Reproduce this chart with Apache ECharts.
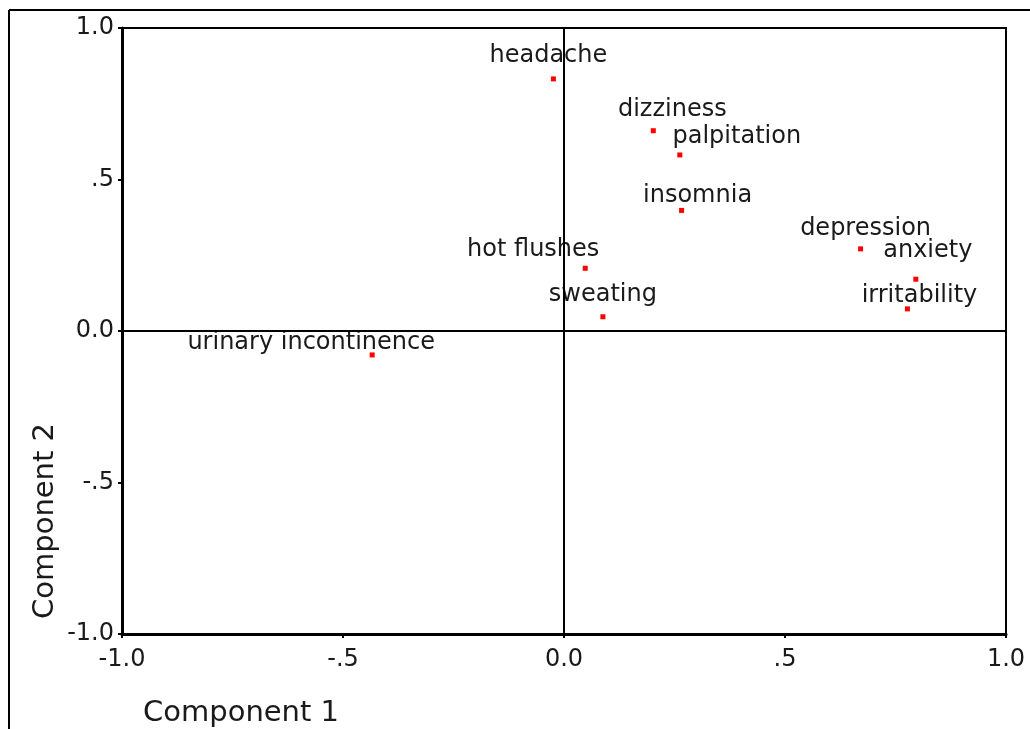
<!DOCTYPE html>
<html>
<head>
<meta charset="utf-8">
<script src="https://cdn.jsdelivr.net/npm/echarts@6/dist/echarts.min.js"></script>
<style>html,body{margin:0;padding:0;background:#fff}#c{width:1030px;height:729px}</style>
</head>
<body>
<div id="c"></div>
<script>
const symptoms = ['headache','dizziness','palpitation','insomnia','hot flushes','sweating','depression','anxiety','irritability','urinary incontinence'];
const component1 = [-0.024, 0.202, 0.262, 0.266, 0.048, 0.088, 0.671, 0.796, 0.777, -0.434];
const component2 = [0.832, 0.661, 0.581, 0.398, 0.207, 0.047, 0.271, 0.171, 0.073, -0.079];
const tickValues = [-1, -0.5, 0, 0.5, 1];
const tickLabels = ['-1.0', '-.5', '0.0', '.5', '1.0'];
// label placement (pixels, relative to the point) - styling only
const labelOffsets = [[-5,-23],[19,-21],[57,-18],[16,-15],[-52,-19],[0,-22],[5,-20],[12,-28],[12,-13],[-61,-12]];

const FONT = 'DejaVu Sans';
const fmt = v => { const i = tickValues.findIndex(t => Math.abs(t - v) < 1e-9); return i >= 0 ? tickLabels[i] : ''; };

const data = symptoms.map((n, i) => ({ name: n, value: [component1[i], component2[i]] }));

const axisCommon = {
  min: -1, max: 1, interval: 0.5,
  splitLine: { show: false },
  axisLine: { onZero: false, lineStyle: { color: '#000', width: 3 } },
  axisTick: { show: true, length: 4, lineStyle: { color: '#000', width: 2 } },
  axisLabel: { formatter: fmt, color: '#1a1a1a', fontFamily: FONT, fontSize: 24 }
};

const chart = echarts.init(document.getElementById('c'));
chart.setOption({
  animation: false,
  backgroundColor: '#fff',
  grid: { left: 122, top: 28, right: 24, bottom: 95, show: true, borderColor: '#000', borderWidth: 2, backgroundColor: 'transparent' },
  xAxis: Object.assign({ type: 'value' }, axisCommon, { axisLabel: Object.assign({}, axisCommon.axisLabel, { margin: 14 }) }),
  yAxis: Object.assign({ type: 'value' }, axisCommon, { axisLabel: Object.assign({}, axisCommon.axisLabel, { margin: 8 }) }),
  graphic: [
    { type: 'line', shape: { x1: 9, y1: 10, x2: 1030, y2: 10 }, style: { stroke: '#000', lineWidth: 2 } },
    { type: 'line', shape: { x1: 9, y1: 10, x2: 9, y2: 729 }, style: { stroke: '#000', lineWidth: 2 } },
    { type: 'text', x: 241, y: 713, style: { text: 'Component 1', font: '29px "DejaVu Sans"', fill: '#1a1a1a', textAlign: 'center', textVerticalAlign: 'middle' } },
    { type: 'text', x: 45, y: 521, rotation: Math.PI / 2, style: { text: 'Component 2', font: '29px "DejaVu Sans"', fill: '#1a1a1a', textAlign: 'center', textVerticalAlign: 'middle' } }
  ],
  series: [{
    type: 'scatter',
    symbol: 'rect',
    symbolSize: 5,
    itemStyle: { color: '#ff0000', opacity: 1 },
    data: data,
    label: {
      show: true,
      position: 'inside',
      formatter: p => p.name,
      color: '#1a1a1a',
      fontFamily: FONT,
      fontSize: 24,
      align: 'center',
      verticalAlign: 'middle'
    },
    labelLayout: p => ({ dx: labelOffsets[p.dataIndex][0], dy: labelOffsets[p.dataIndex][1], hideOverlap: false }),
    markLine: {
      silent: true,
      symbol: 'none',
      label: { show: false },
      lineStyle: { color: '#000', width: 2, type: 'solid', opacity: 1 },
      data: [{ xAxis: 0 }, { yAxis: 0 }]
    },
    z: 3
  }]
});
</script>
</body>
</html>
